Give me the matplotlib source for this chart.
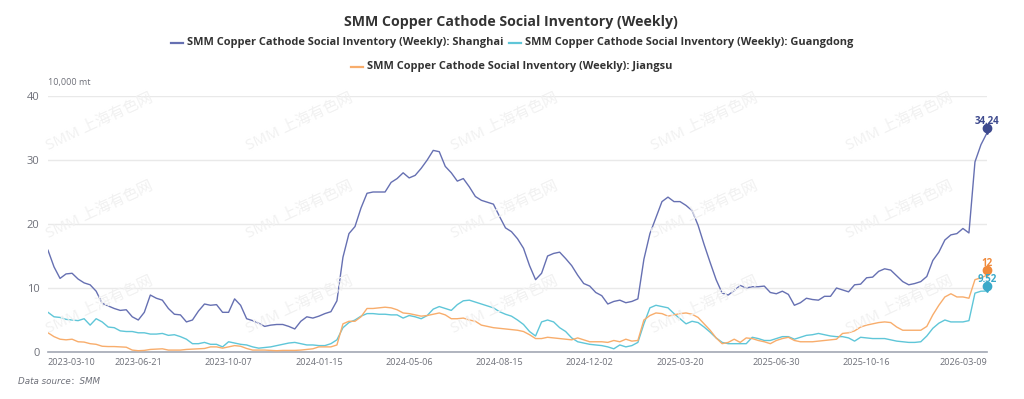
import matplotlib
matplotlib.use("Agg")
import matplotlib.pyplot as plt
import matplotlib.transforms as mtrans
from matplotlib.lines import Line2D

plt.rcParams['font.family'] = ['Open Sans', 'Noto Sans CJK SC', 'DejaVu Sans']

# weekly social inventory, 10,000 mt (one value per ~6 px)
shanghai = [
    15.9, 13.3, 11.5, 12.2, 12.3, 11.4, 10.8, 10.5, 9.5, 7.6,
    7.2, 6.8, 6.5, 6.6, 5.5, 5.0, 6.2, 8.9, 8.4, 8.1,
    6.8, 5.9, 5.8, 4.7, 5.0, 6.4, 7.5, 7.3, 7.4, 6.2,
    6.2, 8.3, 7.3, 5.2, 4.9, 4.5, 4.0, 4.2, 4.3, 4.3,
    4.0, 3.6, 4.8, 5.5, 5.3, 5.6, 6.0, 6.3, 8.0, 14.8,
    18.5, 19.6, 22.5, 24.8, 25.0, 25.0, 25.0, 26.5, 27.1, 28.0,
    27.2, 27.6, 28.7, 30.0, 31.5, 31.3, 29.0, 28.0, 26.7, 27.1,
    25.8, 24.3, 23.7, 23.4, 23.1, 21.2, 19.4, 18.8, 17.7, 16.2,
    13.5, 11.3, 12.3, 15.0, 15.4, 15.6, 14.6, 13.5, 12.0, 10.7,
    10.3, 9.3, 8.8, 7.5, 7.9, 8.1, 7.7, 7.9, 8.3, 14.5,
    18.5, 21.0, 23.5, 24.2, 23.5, 23.5, 22.9, 22.1, 19.8, 16.8,
    14.0, 11.3, 9.2, 8.9, 9.6, 10.4, 10.0, 10.2, 10.2, 10.3,
    9.3, 9.1, 9.5, 9.0, 7.3, 7.7, 8.4, 8.2, 8.1, 8.7,
    8.7, 10.0, 9.7, 9.4, 10.5, 10.6, 11.6, 11.7, 12.6, 13.0,
    12.8, 11.9, 11.0, 10.5, 10.7, 11.0, 11.8, 14.3, 15.6, 17.5,
    18.3, 18.5, 19.3, 18.6, 29.7, 32.4, 34.24,
]
guangdong = [
    6.2, 5.5, 5.4, 5.1, 5.0, 4.9, 5.2, 4.2, 5.2, 4.7,
    3.9, 3.8, 3.3, 3.2, 3.2, 3.0, 3.0, 2.8, 2.8, 2.9,
    2.6, 2.7, 2.4, 2.0, 1.3, 1.3, 1.5, 1.2, 1.2, 0.8,
    1.6, 1.4, 1.2, 1.1, 0.8, 0.6, 0.7, 0.8, 1.0, 1.2,
    1.4, 1.5, 1.3, 1.1, 1.1, 1.0, 1.0, 1.3, 1.9, 3.8,
    4.6, 5.0, 5.6, 6.0, 6.0, 5.9, 5.9, 5.8, 5.8, 5.3,
    5.7, 5.5, 5.2, 5.7, 6.7, 7.1, 6.8, 6.5, 7.4, 8.0,
    8.1, 7.8, 7.5, 7.2, 6.9, 6.3, 5.9, 5.6, 5.0, 4.3,
    3.2, 2.5, 4.7, 5.0, 4.7, 3.8, 3.2, 2.2, 1.6, 1.4,
    1.2, 1.1, 1.0, 0.8, 0.5, 1.1, 0.8, 1.0, 1.5, 4.4,
    6.9, 7.3, 7.1, 6.9, 6.0, 5.2, 4.4, 4.8, 4.6, 3.9,
    3.1, 2.2, 1.5, 1.3, 1.3, 1.3, 1.3, 2.3, 2.1, 1.8,
    1.8, 2.1, 2.4, 2.4, 2.0, 2.3, 2.6, 2.7, 2.9, 2.7,
    2.5, 2.4, 2.4, 2.2, 1.7, 2.3, 2.2, 2.1, 2.1, 2.1,
    1.9, 1.7, 1.6, 1.5, 1.5, 1.6, 2.5, 3.7, 4.5, 5.0,
    4.7, 4.7, 4.7, 4.9, 9.2, 9.5, 9.52,
]
jiangsu = [
    3.0, 2.4, 2.0, 1.9, 2.0, 1.6, 1.55, 1.3, 1.2, 0.9,
    0.85, 0.85, 0.8, 0.75, 0.3, 0.2, 0.25, 0.4, 0.45, 0.5,
    0.3, 0.3, 0.3, 0.4, 0.45, 0.5, 0.55, 0.8, 0.8, 0.6,
    0.8, 1.0, 0.9, 0.55, 0.3, 0.3, 0.3, 0.25, 0.2, 0.25,
    0.25, 0.25, 0.3, 0.4, 0.5, 0.8, 0.8, 0.8, 1.1, 4.4,
    4.8, 4.8, 5.5, 6.8, 6.8, 6.9, 7.0, 6.9, 6.6, 6.1,
    6.0, 5.8, 5.6, 5.7, 5.9, 6.1, 5.8, 5.2, 5.2, 5.3,
    5.0, 4.8, 4.2, 4.0, 3.8, 3.7, 3.6, 3.5, 3.4, 3.2,
    2.7, 2.1, 2.1, 2.3, 2.2, 2.1, 2.0, 1.9, 2.2, 1.9,
    1.6, 1.6, 1.6, 1.5, 1.8, 1.6, 2.0, 1.7, 1.8, 5.0,
    5.7, 6.1, 6.0, 5.6, 5.8, 6.0, 6.1, 5.9, 5.4, 4.4,
    3.4, 2.2, 1.3, 1.5, 2.0, 1.5, 2.2, 2.1, 1.8, 1.6,
    1.3, 1.8, 2.1, 2.3, 1.8, 1.6, 1.6, 1.6, 1.7, 1.8,
    1.9, 2.0, 2.9, 3.0, 3.3, 3.9, 4.2, 4.4, 4.6, 4.7,
    4.6, 3.9, 3.4, 3.4, 3.4, 3.4, 4.0, 5.8, 7.3, 8.6,
    9.1, 8.6, 8.6, 8.4, 11.3, 11.6, 12.0,
]

tick_labels = ['2023-03-10', '2023-06-21', '2023-10-07', '2024-01-15', '2024-05-06',
               '2024-08-15', '2024-12-02', '2025-03-20', '2025-06-30', '2025-10-16',
               '2026-03-09']
tick_idx = [0, 15, 30, 45, 60, 75, 90, 105, 121, 136, 156]

series = [
    ('Shanghai', shanghai, '#6670b2', '#3e4a8e'),
    ('Guangdong', guangdong, '#5fc6d8', '#3aa9c9'),
    ('Jiangsu', jiangsu, '#f8ad6c', '#f08a3c'),
]
base_name = 'SMM Copper Cathode Social Inventory (Weekly)'

W, H = 1024, 399
fig = plt.figure(figsize=(W / 100, H / 100), dpi=100)
ax = fig.add_axes([48 / W, 1 - 352 / H, (987 - 48) / W, (352 - 96) / H])

x = list(range(len(shanghai)))
for name, vals, col, lab_col in series:
    ax.plot(x, vals, color=col, lw=1.0, zorder=3)

# end-point pins with value labels
last = len(shanghai) - 1
pin_tr = mtrans.offset_copy(ax.transData, fig=fig, x=0, y=5, units='dots')
tip_tr = mtrans.offset_copy(ax.transData, fig=fig, x=0, y=2, units='dots')
for name, vals, col, lab_col in series:
    v = vals[-1]
    ax.plot(last, v, marker='v', ms=4, color=lab_col, zorder=5, clip_on=False, transform=tip_tr)
    ax.plot(last, v, marker='o', ms=6, color=lab_col, zorder=5, clip_on=False, transform=pin_tr)
    ax.annotate(f'{v:g}', (last, v), xytext=(0, 6.5), textcoords='offset points',
                ha='center', va='baseline', fontsize=7, fontweight='bold',
                color=lab_col, zorder=6, annotation_clip=False)

ax.set_xlim(0, last)
ax.set_ylim(0, 40)
ax.set_yticks([0, 10, 20, 30, 40])
ax.yaxis.grid(True, color='#e9e9e9', lw=1)
ax.set_axisbelow(True)
ax.tick_params(axis='y', length=0, labelsize=8, labelcolor='#6e7079', pad=6)

ax.set_xticks(tick_idx)
ax.set_xticklabels(tick_labels)
ax.tick_params(axis='x', length=0, labelsize=6.6, labelcolor='#6e7079', pad=4)
xl = ax.get_xticklabels()
xl[0].set_ha('left')
xl[-1].set_ha('right')

for s in ['top', 'right', 'left']:
    ax.spines[s].set_visible(False)
ax.spines['bottom'].set_color('#a3a8b4')
ax.spines['bottom'].set_linewidth(1.2)

# watermark
for wy in [122, 210, 305]:
    for wx in [100, 300, 505, 705, 900]:
        fig.text(wx / W, 1 - wy / H, 'SMM 上海有色网', rotation=25, ha='center', va='center',
                 fontsize=11, color='#f1f1f1', zorder=0)

# title
fig.text(511 / W, 1 - 22 / H, base_name, ha='center', va='center',
         fontsize=10.2, fontweight='bold', color='#333333')

# legend, laid out as centred rows
renderer = fig.canvas.get_renderer()
rows = [[0, 1], [2]]
row_y = [43, 67]
for items, ly in zip(rows, row_y):
    texts = []
    for k in items:
        t = fig.text(0, 1 - ly / H, f'{base_name}: {series[k][0]}', ha='left', va='center',
                     fontsize=7.9, fontweight='bold', color='#333333')
        texts.append(t)
    widths = [t.get_window_extent(renderer).width for t in texts]
    total = sum(16 + w for w in widths) + 6 * (len(items) - 1)
    lx = 512 - total / 2
    for k, t, w in zip(items, texts, widths):
        yy = 1 - ly / H
        fig.add_artist(Line2D([lx / W, (lx + 12) / W], [yy, yy], color=series[k][2], lw=1.6))
        t.set_x((lx + 16) / W)
        lx += 16 + w + 6

fig.text(48 / W, 1 - 83 / H, '10,000 mt', ha='left', va='center', fontsize=6.5, color='#6e7079')
fig.text(18 / W, 1 - 381 / H, 'Data source：SMM', ha='left', va='center', fontsize=6.3,
         style='italic', color='#6e7079', family=['DejaVu Sans', 'Noto Sans CJK SC'])

fig.savefig('out.png', dpi=100)
